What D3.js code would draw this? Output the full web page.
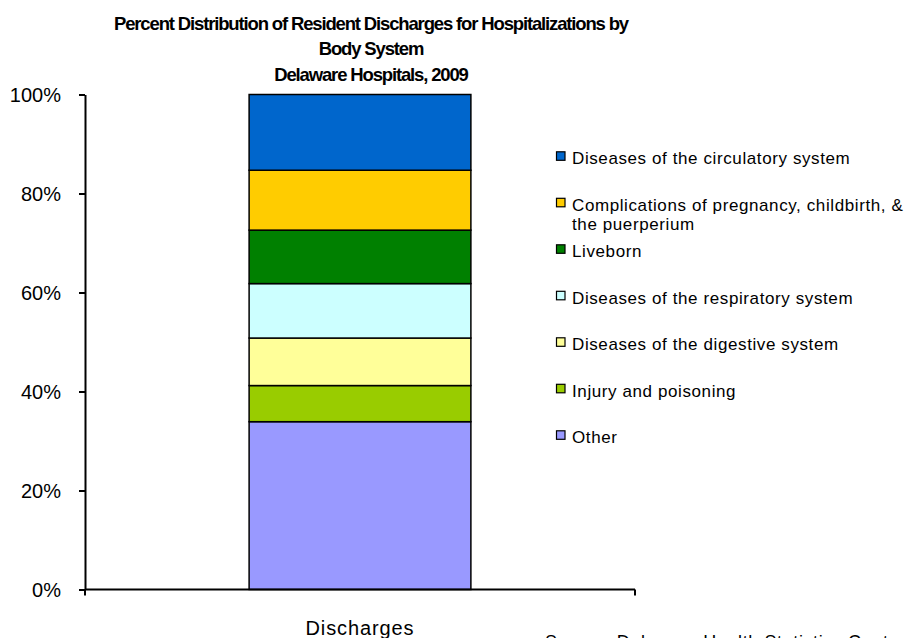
<!DOCTYPE html>
<html>
<head>
<meta charset="utf-8">
<script src="https://cdn.jsdelivr.net/npm/d3@7"></script>
<style>
  body { margin: 0; background: #fff; }
  svg { font-family: "Liberation Sans", Arial, sans-serif; }
  .title { font-weight: bold; font-size: 18.5px; letter-spacing: -1.15px; }
  .tick text { font-size: 20px; }
  .legend text { font-size: 17px; letter-spacing: 0.6px; }
</style>
</head>
<body>
<svg width="909" height="638"></svg>
<script>
const categories = ["Discharges"]
const seriesNames = [
  "Other",
  "Injury and poisoning",
  "Diseases of the digestive system",
  "Diseases of the respiratory system",
  "Liveborn",
  "Complications of pregnancy, childbirth, &\nthe puerperium",
  "Diseases of the circulatory system"
]
const seriesValues = [33.9, 7.3, 9.6, 11.0, 10.8, 12.1, 15.3]
const seriesColors = ["#9999FF", "#99CC00", "#FFFF99", "#CCFFFF", "#008000", "#FFCC00", "#0066CC"]
const yTicks = [0, 20, 40, 60, 80, 100]
const titleLines = [
  "Percent Distribution of Resident Discharges for Hospitalizations by",
  "Body System",
  "Delaware Hospitals, 2009"
]

const svg = d3.select("svg")

// one row per category, keyed by series name
const rows = categories.map((c) => {
  const row = { category: c }
  seriesNames.forEach((s, i) => { row[s] = seriesValues[i] })
  return row
})

const stacked = d3.stack().keys(seriesNames)(rows)

const x = d3.scaleBand()
  .domain(categories)
  .range([85, 635])
  .paddingInner(0)
  .paddingOuter(0.74)

const y = d3.scaleLinear()
  .domain([0, 100])
  .range([589.5, 94.5])

const color = d3.scaleOrdinal()
  .domain(seriesNames)
  .range(seriesColors)

// title
svg.append("g")
  .selectAll("text")
  .data(titleLines)
  .enter().append("text")
  .attr("class", "title")
  .attr("x", 371)
  .attr("y", (d, i) => 30 + i * 25.3)
  .attr("text-anchor", "middle")
  .text((d) => d)

// bars
svg.append("g")
  .selectAll("g")
  .data(stacked)
  .enter().append("g")
  .attr("fill", (d) => color(d.key))
  .selectAll("rect")
  .data((d) => d)
  .enter().append("rect")
  .attr("x", (d) => x(d.data.category))
  .attr("width", x.bandwidth())
  .attr("y", (d) => y(d[1]))
  .attr("height", (d) => y(d[0]) - y(d[1]))
  .attr("stroke", "#000")
  .attr("stroke-width", 1.5)

// y axis
const yAxis = svg.append("g")
  .attr("transform", "translate(85,0)")
  .call(d3.axisLeft(y).tickValues(yTicks).tickFormat((d) => d + "%").tickSize(6).tickSizeOuter(0))
yAxis.select(".domain").attr("stroke", "#000").attr("stroke-width", 2)
yAxis.selectAll(".tick line").attr("stroke", "#000").attr("stroke-width", 2)
yAxis.selectAll(".tick text").attr("x", -24).attr("dy", "0.36em").attr("fill", "#000")
  .attr("font-family", "Liberation Sans, Arial, sans-serif")

// x axis: line with boundary ticks like Excel
const xAxis = svg.append("g")
xAxis.append("line")
  .attr("x1", x.range()[0]).attr("x2", x.range()[1])
  .attr("y1", y(0)).attr("y2", y(0))
  .attr("stroke", "#000").attr("stroke-width", 2)
xAxis.selectAll("line.bound")
  .data(x.range())
  .enter().append("line")
  .attr("class", "bound")
  .attr("x1", (d) => d).attr("x2", (d) => d)
  .attr("y1", y(0)).attr("y2", y(0) + 6)
  .attr("stroke", "#000").attr("stroke-width", 2)
xAxis.selectAll("text")
  .data(categories)
  .enter().append("text")
  .attr("x", (d) => x(d) + x.bandwidth() / 2)
  .attr("y", 634.5)
  .attr("text-anchor", "middle")
  .attr("font-size", 20)
  .attr("letter-spacing", 0.9)
  .text((d) => d)

// legend, top entry = top of stack
const legendOrder = seriesNames.slice().reverse()
const ly = d3.scalePoint()
  .domain(legendOrder)
  .range([164.3, 443.3])

const legend = svg.append("g")
  .attr("class", "legend")
  .selectAll("g")
  .data(legendOrder)
  .enter().append("g")
  .attr("transform", (d) => `translate(0, ${ly(d)})`)

legend.append("rect")
  .attr("x", 556.5)
  .attr("y", -12.5)
  .attr("width", 8.5)
  .attr("height", 8.5)
  .attr("fill", (d) => color(d))
  .attr("stroke", "#000")
  .attr("stroke-width", 1.2)

legend.append("text")
  .attr("x", 572)
  .selectAll("tspan")
  .data((d) => d.split("\n"))
  .enter().append("tspan")
  .attr("x", 572)
  .attr("dy", (d, i) => i === 0 ? 0 : 19)
  .text((d) => d)

// source note, cut off by the bottom edge as in the original
svg.append("text")
  .attr("x", 545)
  .attr("y", 648)
  .attr("font-size", 18)
  .attr("letter-spacing", 0.6)
  .text("Source: Delaware Health Statistics Center")
</script>
</body>
</html>
